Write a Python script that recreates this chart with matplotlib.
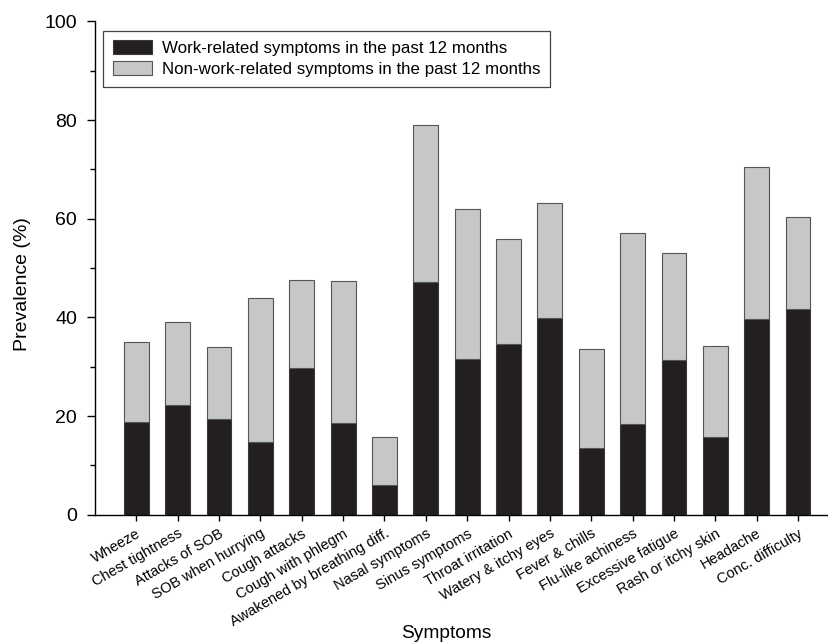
import numpy as np
import matplotlib
matplotlib.use("Agg")
import matplotlib.pyplot as plt
from matplotlib.ticker import MultipleLocator

plt.rcParams['font.family'] = ['Liberation Sans', 'DejaVu Sans']

symptoms = ["Wheeze", "Chest tightness", "Attacks of SOB", "SOB when hurrying",
            "Cough attacks", "Cough with phlegm", "Awakened by breathing diff.",
            "Nasal symptoms", "Sinus symptoms", "Throat irritation",
            "Watery & itchy eyes", "Fever & chills", "Flu-like achiness",
            "Excessive fatigue", "Rash or itchy skin", "Headache", "Conc. difficulty"]
# work-related prevalence (%) and total prevalence (%)
work_related = [18.8, 22.2, 19.4, 14.7, 29.7, 18.6, 6.0, 47.2, 31.5, 34.6,
                39.9, 13.5, 18.4, 31.4, 15.8, 39.7, 41.7]
total = [35.1, 39.0, 34.0, 43.9, 47.6, 47.3, 15.8, 78.9, 61.9, 55.8,
         63.1, 33.5, 57.2, 53.0, 34.1, 70.5, 60.3]
non_work = [t - w for t, w in zip(total, work_related)]

fig = plt.figure(figsize=(8.29, 6.43), dpi=100)
ax = fig.add_axes([95 / 829, 1 - 514.7 / 643, 1 - 95 / 829, (514.7 - 21.4) / 643])

x = np.arange(len(symptoms))
ax.bar(x, work_related, width=0.6, color="#231f20", edgecolor="#3a3a3a", linewidth=0.8,
       label="Work-related symptoms in the past 12 months")
ax.bar(x, non_work, width=0.6, bottom=work_related, color="#c6c7c9", edgecolor="#555555",
       linewidth=0.8, label="Non-work-related symptoms in the past 12 months")

ax.set_xlim(-1, 16.75)
ax.set_ylim(0, 100)
ax.yaxis.set_major_locator(MultipleLocator(20))
ax.yaxis.set_minor_locator(MultipleLocator(10))
ax.set_xticks(x)
ax.set_xticklabels(symptoms, rotation=30, ha="right", rotation_mode="anchor", fontsize=10.5)
ax.tick_params(axis="y", which="major", direction="out", length=6, width=1, labelsize=14, pad=7)
ax.tick_params(axis="y", which="minor", direction="out", length=3.6, width=1)
ax.tick_params(axis="x", direction="out", length=4.5, width=1, pad=4)
for s in ["top", "right"]:
    ax.spines[s].set_visible(False)
ax.spines["left"].set_linewidth(1)
ax.spines["bottom"].set_linewidth(1)

fig.text(23 / 829, 1 - 284 / 643, "Prevalence (%)", rotation=90, ha="center", va="center",
         fontsize=14)
fig.text(446 / 829, 1 - 638 / 643, "Symptoms", ha="center", va="baseline", fontsize=13.8)

leg = ax.legend(loc="upper left", bbox_to_anchor=(8.3 / 734, 0.981), fontsize=12.2, frameon=True,
                fancybox=False, edgecolor="#444444", framealpha=1, borderpad=0.55,
                handlelength=2.35, handleheight=0.9, handletextpad=0.55, labelspacing=0.32,
                borderaxespad=0)
leg.get_frame().set_linewidth(0.9)

fig.savefig("out.png", dpi=100)
